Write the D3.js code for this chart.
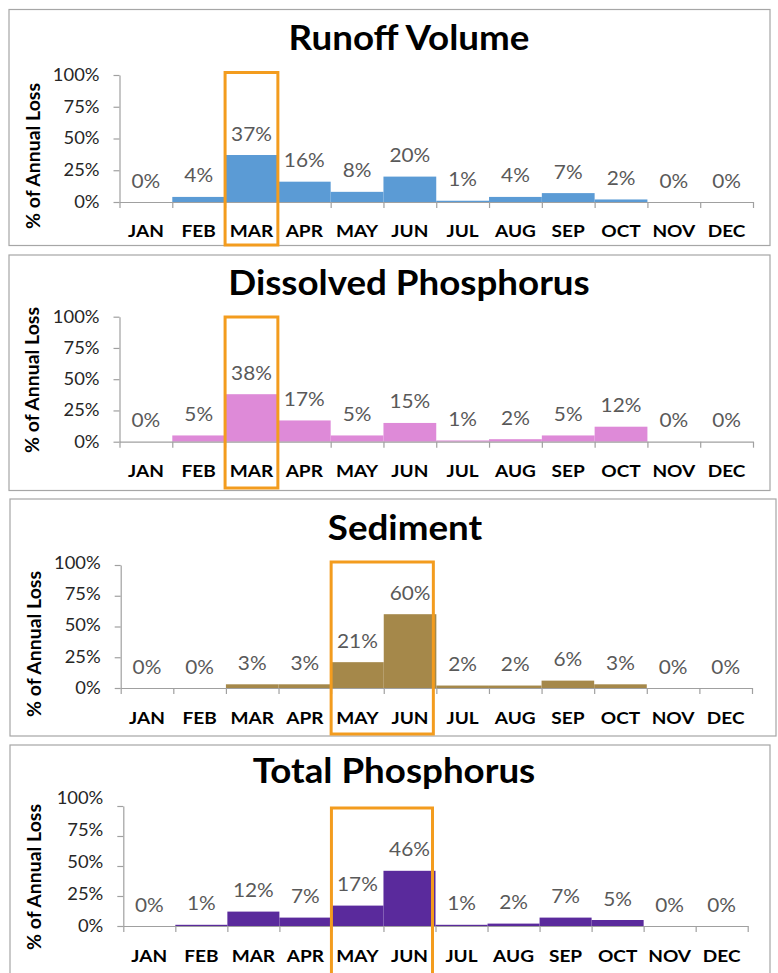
<!DOCTYPE html>
<html>
<head>
<meta charset="utf-8">
<script src="https://cdn.jsdelivr.net/npm/d3@7"></script>
<style>
  html, body { margin: 0; padding: 0; background: #fff; }
  svg { display: block; }
</style>
</head>
<body>
<svg id="chart" width="778" height="973"></svg>
<script>
// ---------------- DATA ----------------
const months = ["JAN","FEB","MAR","APR","MAY","JUN","JUL","AUG","SEP","OCT","NOV","DEC"];
const runoffVolume        = [0, 4, 37, 16, 8, 20, 1, 4, 7, 2, 0, 0];
const dissolvedPhosphorus = [0, 5, 38, 17, 5, 15, 1, 2, 5, 12, 0, 0];
const sediment            = [0, 0, 3, 3, 21, 60, 2, 2, 6, 3, 0, 0];
const totalPhosphorus     = [0, 1, 12, 7, 17, 46, 1, 2, 7, 5, 0, 0];
const yTicks = [0, 25, 50, 75, 100];
const yLabel = "% of Annual Loss";
const titles = ["Runoff Volume", "Dissolved Phosphorus", "Sediment", "Total Phosphorus"];
const highlights = [["MAR"], ["MAR"], ["MAY","JUN"], ["MAY","JUN"]];

// ---------------- LAYOUT ----------------
const series = [runoffVolume, dissolvedPhosphorus, sediment, totalPhosphorus];
const colors = ["#5B9BD5", "#DE8AD8", "#A5884A", "#5A2A9C"];
const layout = [
  {box:[9,9.5,770,245.5],  x0:119.5, x1:753,   y0:202,   y1:75,    titleX:409, titleY:50,  labX:33, labY:156, monY:230, hl:[72.5,245], hlInset:0, lblSpan:127},
  {box:[9,255,770,490.5],  x0:119.5, x1:753,   y0:441.7, y1:316.7, titleX:409, titleY:295, labX:32, labY:380, monY:470, hl:[317,488],  hlInset:0, lblSpan:125},
  {box:[10,499,776,736],   x0:120.7, x1:752,   y0:688,   y1:565,   titleX:405, titleY:540, labX:34, labY:644, monY:717, hl:[562,734],  hlInset:3, lblSpan:125},
  {box:[10,745,770,1000],  x0:123.3, x1:747.7, y0:926,   y1:806,   titleX:394, titleY:783, labX:34, labY:877, monY:955, hl:[808,1000], hlInset:3, lblSpan:128}
];

const FONT = "Lato, 'Open Sans', 'DejaVu Sans', sans-serif";
const svg = d3.select("#chart");
const axisColor = "#A0A0A0";

// stretch text horizontally by a factor (reference glyphs are wider than Lato's)
function stretch(sel, k) {
  sel.each(function() {
    const w = this.getComputedTextLength();
    d3.select(this).attr("textLength", w * k).attr("lengthAdjust", "spacingAndGlyphs");
  });
}

layout.forEach((L, i) => {
  const g = svg.append("g");
  const data = series[i];

  // panel border
  g.append("rect")
    .attr("x", L.box[0]).attr("y", L.box[1])
    .attr("width", L.box[2] - L.box[0]).attr("height", L.box[3] - L.box[1])
    .attr("fill", "#fff").attr("stroke", "#A6A6A6").attr("stroke-width", 1.2);

  const x = d3.scaleBand().domain(months).range([L.x0, L.x1]).padding(0);
  const xb = d3.scaleLinear().domain([0, months.length]).range([L.x0, L.x1]);
  const y = d3.scaleLinear().domain([0, 100]).range([L.y0, L.y1]);
  const yl = d3.scaleLinear().domain([0, 100]).range([L.y0, L.y0 - L.lblSpan]);

  // title
  g.append("text")
    .attr("x", L.titleX).attr("y", L.titleY)
    .attr("text-anchor", "middle")
    .attr("font-family", FONT).attr("font-weight", "bold")
    .attr("font-size", 34).attr("fill", "#000")
    .text(titles[i])
    .call(stretch, 1.08);

  // y-axis label
  g.append("text")
    .attr("transform", `translate(${L.labX},${L.labY}) rotate(-90)`)
    .attr("text-anchor", "middle").attr("dominant-baseline", "central")
    .attr("font-family", FONT).attr("font-weight", "bold")
    .attr("font-size", 18).attr("fill", "#000")
    .text(yLabel)
    .call(stretch, 1.08);

  // bars
  g.selectAll("rect.bar").data(data).join("rect")
    .attr("class", "bar")
    .attr("x", (d, j) => x(months[j]))
    .attr("width", x.bandwidth())
    .attr("y", d => y(d))
    .attr("height", d => y(0) - y(d))
    .attr("fill", colors[i]);

  // y axis
  const ya = g.append("g")
    .attr("transform", `translate(${L.x0},0)`)
    .call(d3.axisLeft(y).tickValues(yTicks).tickFormat(d => d + "%").tickSize(6).tickSizeOuter(0));
  ya.select(".domain").attr("stroke", axisColor).attr("stroke-width", 1.2);
  ya.selectAll(".tick line").attr("stroke", axisColor).attr("stroke-width", 1.2);
  ya.selectAll(".tick text")
    .attr("font-family", FONT).attr("font-size", 17).attr("fill", "#262626")
    .attr("x", -20)
    .attr("y", d => yl(d) - y(d))
    .call(stretch, 1.08);

  // x axis (line + boundary ticks)
  const xa = g.append("g")
    .attr("transform", `translate(0,${L.y0})`)
    .call(d3.axisBottom(xb).tickValues(d3.range(0, months.length + 1)).tickFormat("").tickSize(6).tickSizeOuter(0));
  xa.select(".domain").attr("stroke", axisColor).attr("stroke-width", 1.2);
  xa.selectAll(".tick line").attr("stroke", axisColor).attr("stroke-width", 1.2);

  // month labels
  g.selectAll("text.mon").data(months).join("text")
    .attr("class", "mon")
    .attr("x", d => x(d) + x.bandwidth() / 2)
    .attr("y", L.monY)
    .attr("text-anchor", "middle").attr("dominant-baseline", "central")
    .attr("font-family", FONT).attr("font-weight", "bold")
    .attr("font-size", 17).attr("fill", "#000")
    .text(d => d)
    .call(stretch, 1.12);

  // data labels
  g.selectAll("text.val").data(data).join("text")
    .attr("class", "val")
    .attr("x", (d, j) => x(months[j]) + x.bandwidth() / 2)
    .attr("y", d => y(d) - 22.5)
    .attr("text-anchor", "middle").attr("dominant-baseline", "central")
    .attr("font-family", FONT).attr("font-size", 20).attr("fill", "#595959")
    .text(d => d + "%")
    .call(stretch, 1.04);

  // highlight box
  const hm = highlights[i];
  const hx0 = x(hm[0]);
  const hx1 = x(hm[hm.length - 1]) + x.bandwidth() - L.hlInset;
  g.append("rect")
    .attr("x", hx0).attr("y", L.hl[0])
    .attr("width", hx1 - hx0).attr("height", L.hl[1] - L.hl[0])
    .attr("fill", "none").attr("stroke", "#F39C1E").attr("stroke-width", 3);
});
</script>
</body>
</html>
